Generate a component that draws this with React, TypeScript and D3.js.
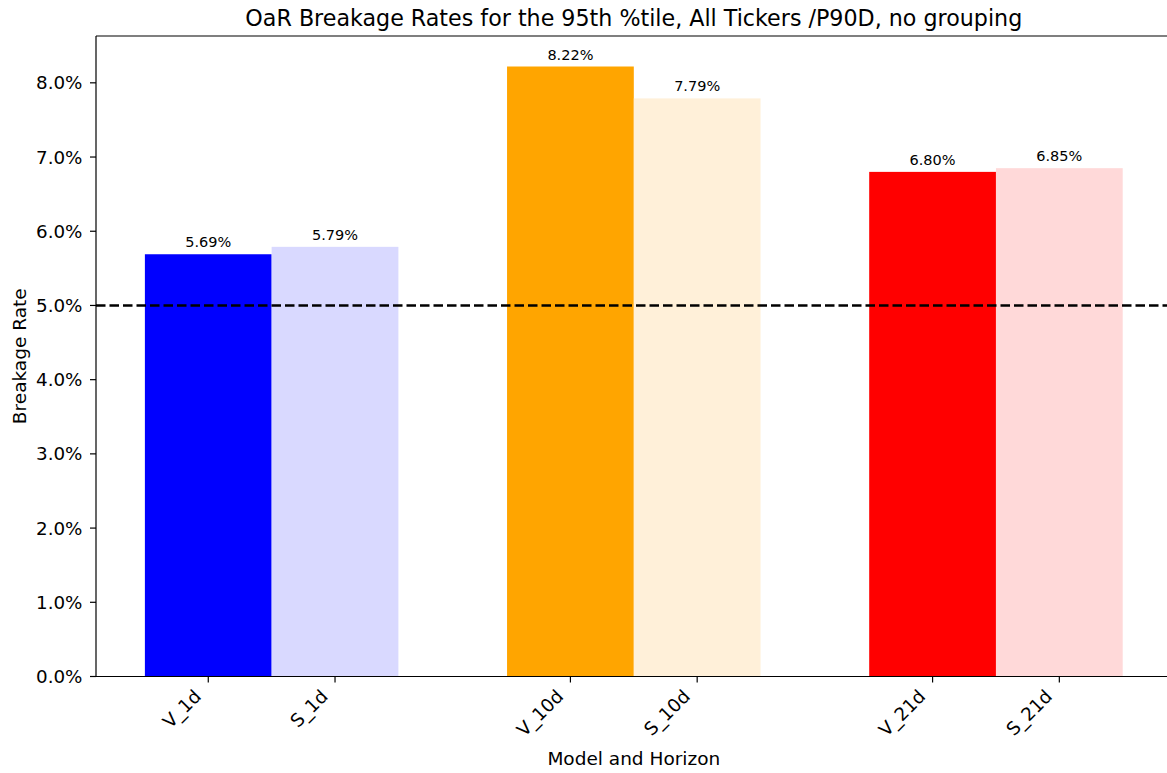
import React from "react";
import * as d3 from "d3";

const categories = ["V_1d", "S_1d", "V_10d", "S_10d", "V_21d", "S_21d"];
const values = [5.69, 5.79, 8.22, 7.79, 6.8, 6.85];
const groupIndex = [0, 0, 1, 1, 2, 2];
const side = [-1, 1, -1, 1, -1, 1];
const colors = ["#0000ff", "#d9d9ff", "#ffa500", "#fff0d9", "#ff0000", "#ffd9d9"];
const yTicks = [0, 1, 2, 3, 4, 5, 6, 7, 8];
const threshold = 5.0;
const barWidth = 0.35;

const W = 1167;
const H = 773;
const FONT = "DejaVu Sans, sans-serif";

export default function App() {
  const left = 96;
  const right = 1171.6;
  const top = 36;
  const bottom = 676.5;
  const x = d3.scaleLinear().domain([-0.485, 2.485]).range([left, right]);
  const y = d3.scaleLinear().domain([0, 8.631]).range([bottom, top]);
  const centers = categories.map((_, i) => groupIndex[i] + (side[i] * barWidth) / 2);
  const bw = x(barWidth) - x(0);
  const tickFs = 18.3;

  return (
    <svg
      width={W}
      height={H}
      style={{ position: "absolute", left: 0, top: 0, background: "#fff" }}
      fontFamily={FONT}
    >
      <rect x={0} y={0} width={W} height={H} fill="#fff" />
      {categories.map((c, i) => (
        <rect
          key={c}
          x={x(centers[i]) - bw / 2}
          y={y(values[i])}
          width={bw}
          height={y(0) - y(values[i])}
          fill={colors[i]}
        />
      ))}
      {categories.map((c, i) => (
        <text
          key={"l" + c}
          x={x(centers[i])}
          y={y(values[i]) - 7}
          textAnchor="middle"
          fontSize={14.5}
          fill="#000"
        >
          {values[i].toFixed(2) + "%"}
        </text>
      ))}
      <line
        x1={left}
        x2={right}
        y1={y(threshold)}
        y2={y(threshold)}
        stroke="#000"
        strokeWidth={2.5}
        strokeDasharray="9.5,4"
      />
      {/* spines */}
      <line x1={left} x2={left} y1={top} y2={bottom} stroke="#000" strokeWidth={1.2} />
      <line x1={left} x2={right} y1={bottom} y2={bottom} stroke="#000" strokeWidth={1.2} />
      <line x1={left} x2={right} y1={top} y2={top} stroke="#000" strokeWidth={1.2} />
      <line x1={right} x2={right} y1={top} y2={bottom} stroke="#000" strokeWidth={1.2} />
      {/* y ticks */}
      {yTicks.map((t) => (
        <g key={"y" + t}>
          <line x1={left - 6} x2={left} y1={y(t)} y2={y(t)} stroke="#000" strokeWidth={1.2} />
          <text x={left - 13.5} y={y(t)} dy="0.36em" textAnchor="end" fontSize={tickFs} fill="#000">
            {t.toFixed(1) + "%"}
          </text>
        </g>
      ))}
      {/* x ticks */}
      {categories.map((c, i) => {
        const cx = x(centers[i]);
        return (
          <g key={"x" + c}>
            <line x1={cx} x2={cx} y1={bottom} y2={bottom + 6} stroke="#000" strokeWidth={1.2} />
            <text
              transform={`translate(${cx - 6},${bottom + 21}) rotate(-45)`}
              textAnchor="end"
              fontSize={tickFs}
              fill="#000"
            >
              {c}
            </text>
          </g>
        );
      })}
      <text x={(left + right) / 2} y={765} textAnchor="middle" fontSize={18.5} fill="#000">
        Model and Horizon
      </text>
      <text
        transform={`translate(25.5,${(top + bottom) / 2}) rotate(-90)`}
        textAnchor="middle"
        fontSize={18.5}
        fill="#000"
      >
        Breakage Rate
      </text>
      <text x={(left + right) / 2} y={26} textAnchor="middle" fontSize={22.2} fill="#000">
        OaR Breakage Rates for the 95th %tile, All Tickers /P90D, no grouping
      </text>
    </svg>
  );
}
